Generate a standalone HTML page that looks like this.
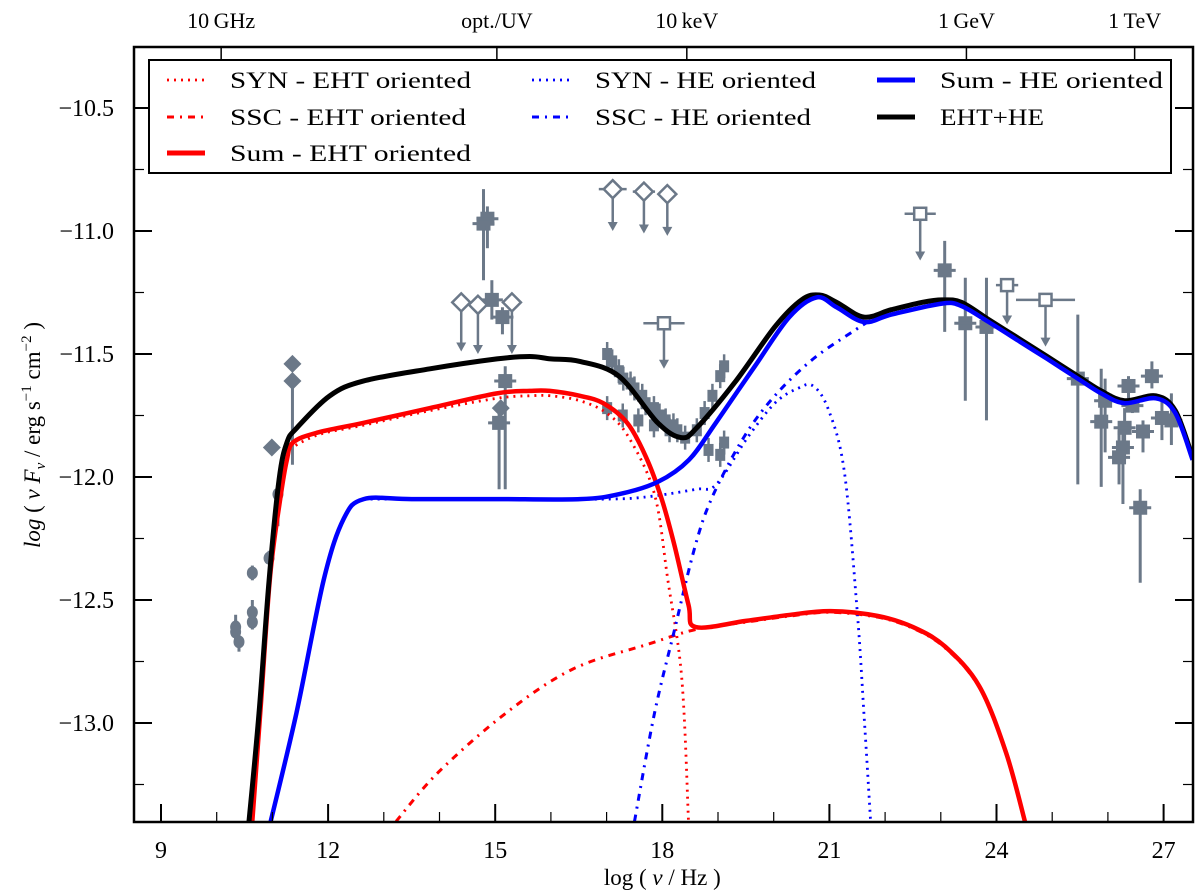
<!DOCTYPE html>
<html><head><meta charset="utf-8"><style>
html,body{margin:0;padding:0;background:#fff;}
svg{display:block;font-family:"Liberation Serif",serif;}
</style></head><body>
<svg id="chart" width="1200" height="893" viewBox="0 0 1200 893" xmlns="http://www.w3.org/2000/svg">
<g id="marks"></g>
<g id="axes"></g>
<g id="legend"></g>
</svg>
<script>
// ---- data ----
const xTicks = [9, 12, 15, 18, 21, 24, 27];
const yTicks = [-10.5, -11.0, -11.5, -12.0, -12.5, -13.0];
const yTickLabels = ["\u221210.5", "\u221211.0", "\u221211.5", "\u221212.0", "\u221212.5", "\u221213.0"];
const topTicks = [10.08, 15.03, 18.44, 23.46, 26.48];
const topLabels = ["10\u2009GHz", "opt./UV", "10\u2009keV", "1\u2009GeV", "1\u2009TeV"];

const blackX = [10.58, 10.76, 10.94, 11.12, 11.26, 11.44, 12.03, 12.63, 13.83, 15.03, 15.62, 16.0, 16.52, 17.22, 17.92, 18.34, 18.62, 19.32, 20.02, 20.5, 20.82, 21.13, 21.62, 22.11, 22.67, 23.02, 23.37, 23.86, 24.42, 24.91, 25.46, 25.88, 26.3, 26.86, 27.21, 27.52];
const blackY = [-13.4, -12.96, -12.42, -12.01, -11.86, -11.8, -11.67, -11.61, -11.56, -11.52, -11.51, -11.52, -11.53, -11.59, -11.78, -11.84, -11.8, -11.61, -11.39, -11.28, -11.26, -11.29, -11.35, -11.32, -11.29, -11.28, -11.29, -11.36, -11.44, -11.51, -11.59, -11.65, -11.69, -11.67, -11.73, -11.92];

const redSumX = [10.64, 10.8, 10.96, 11.14, 11.26, 11.37, 11.8, 12.63, 13.83, 15.03, 15.62, 15.98, 16.52, 16.94, 17.37, 17.71, 17.99, 18.22, 18.47, 18.6, 19.5, 20.3, 21.02, 21.87, 22.5, 23.08, 23.69, 24.17, 24.51];
const redSumY = [-13.4, -12.9, -12.4, -12.09, -11.93, -11.86, -11.82, -11.78, -11.72, -11.66, -11.65, -11.65, -11.67, -11.7, -11.78, -11.92, -12.09, -12.28, -12.52, -12.61, -12.585, -12.56, -12.545, -12.565, -12.61, -12.69, -12.85, -13.12, -13.4];
const redSynX = [11.2, 11.8, 12.63, 13.83, 15.03, 15.62, 16.0, 16.52, 17.0, 17.4, 17.86, 18.1, 18.35, 18.47];
const redSynY = [-11.9, -11.83, -11.79, -11.73, -11.68, -11.67, -11.67, -11.69, -11.74, -11.84, -12.07, -12.42, -12.82, -13.4];
const redSscX = [13.22, 13.98, 15.19, 16.4, 17.74, 18.6, 19.5, 20.3, 21.02, 21.87, 22.5, 23.08, 23.69, 24.17, 24.51];
const redSscY = [-13.4, -13.2, -12.96, -12.78, -12.68, -12.62, -12.59, -12.565, -12.55, -12.57, -12.615, -12.695, -12.855, -13.125, -13.4];

const blueSumX = [10.97, 11.43, 11.92, 12.28, 12.64, 13.5, 15.0, 16.52, 17.22, 17.92, 18.48, 18.96, 19.66, 20.28, 20.77, 21.13, 21.62, 22.11, 23.02, 23.37, 23.86, 24.42, 24.91, 25.46, 25.88, 26.3, 26.86, 27.21, 27.52];
const blueSumY = [-13.4, -12.96, -12.42, -12.17, -12.09, -12.09, -12.09, -12.09, -12.07, -12.02, -11.93, -11.78, -11.55, -11.35, -11.27, -11.31, -11.37, -11.34, -11.295, -11.305, -11.37, -11.45, -11.52, -11.6, -11.66, -11.7, -11.68, -11.74, -11.93];
const blueSynX = [12.64, 15.0, 17.0, 17.75, 18.6, 18.97, 19.53, 20.02, 20.43, 20.71, 20.99, 21.27, 21.5, 21.62, 21.74];
const blueSynY = [-12.09, -12.09, -12.09, -12.08, -12.05, -12.03, -11.84, -11.7, -11.64, -11.63, -11.73, -11.98, -12.55, -12.96, -13.4];
const blueSscX = [17.5, 17.86, 18.22, 18.59, 18.9, 19.46, 20.02, 20.71, 21.48, 21.69];
const blueSscY = [-13.4, -12.96, -12.62, -12.28, -12.08, -11.84, -11.67, -11.52, -11.4, -11.37];

// measured points (filled), with vertical error range
const ptX  = [10.34, 10.34, 10.4, 10.64, 10.64, 10.64, 10.94, 11.1, 14.79, 14.86, 14.94, 15.13, 15.18, 15.07, 23.07, 23.44, 23.82, 25.46, 25.88, 25.95, 26.27, 26.2, 26.3, 26.37, 26.44, 26.63, 26.58, 26.79, 26.97, 27.14];
const ptY  = [-12.61, -12.63, -12.67, -12.55, -12.59, -12.39, -12.33, -12.07, -10.97, -10.95, -11.28, -11.35, -11.61, -11.78, -11.16, -11.375, -11.39, -11.6, -11.775, -11.69, -11.88, -11.92, -11.8, -11.63, -11.71, -11.815, -12.125, -11.59, -11.76, -11.77];
const ptLo = [-12.66, -12.68, -12.71, -12.6, -12.62, -12.42, -12.35, -12.2, -11.2, -11.07, -11.36, -11.42, -12.05, -12.05, -11.41, -11.69, -11.77, -12.03, -12.04, -11.9, -12.11, -12.03, -11.9, -11.68, -11.74, -11.9, -12.43, -11.64, -11.85, -11.87];
const ptHi = [-12.56, -12.58, -12.63, -12.5, -12.55, -12.36, -12.3, -12.05, -10.83, -10.9, -11.2, -11.31, -11.55, -11.72, -11.04, -11.19, -11.19, -11.34, -11.56, -11.6, -11.78, -11.81, -11.72, -11.59, -11.68, -11.77, -12.05, -11.53, -11.68, -11.66];
const ptShape = ["c","c","c","c","c","c","c","c","s","s","s","s","s","s","s","s","s","s","s","s","s","s","s","s","s","s","s","s","s","s"];
// radio / optical filled diamonds
const dmX = [10.99, 11.36, 11.36, 15.1];
const dmY = [-11.88, -11.54, -11.61, -11.72];
const dmLo = [-11.88, -11.54, -11.95, -11.78];
// X-ray bowtie points
const xrX = [17.01, 17.22, 17.43, 17.64, 17.85, 18.06, 18.27, 17.01, 17.29, 17.57, 17.85, 18.13, 18.41, 18.62, 18.76, 18.9, 19.04, 19.11, 18.83, 19.04, 19.11, 17.1, 17.3, 17.5, 17.7, 17.95, 18.2];
const xrY = [-11.5, -11.57, -11.62, -11.67, -11.72, -11.77, -11.81, -11.72, -11.75, -11.77, -11.79, -11.81, -11.84, -11.81, -11.74, -11.67, -11.59, -11.55, -11.89, -11.91, -11.86, -11.53, -11.6, -11.64, -11.7, -11.75, -11.79];
// upper limits: open diamonds (d) and open squares (q)
const ulX = [14.39, 14.69, 15.3, 17.11, 17.67, 18.09, 18.03, 22.63, 24.19, 24.88];
const ulY = [-11.29, -11.3, -11.29, -10.83, -10.84, -10.85, -11.375, -10.93, -11.22, -11.28];
const ulEnd = [-11.49, -11.5, -11.5, -11.0, -11.01, -11.02, -11.56, -11.12, -11.38, -11.47];
const ulXerr = [0, 0, 0, 0.25, 0.2, 0.15, 0.37, 0.28, 0.2, 0.53];
const ulShape = ["d","d","d","d","d","d","q","q","q","q"];

// ---- axes functions ----
const X0 = 161, XU = 55.7, Y0 = 108, YU = 246;
const L = 134, R = 1193, T = 47, B = 822;
function X(v){ return X0 + (v - 9) * XU; }
function Y(v){ return Y0 + (-10.5 - v) * YU; }

const NS = "http://www.w3.org/2000/svg";
function mk(tag, attrs, parent){
  const e = document.createElementNS(NS, tag);
  for (const k in attrs) e.setAttribute(k, attrs[k]);
  parent.appendChild(e);
  return e;
}
function smoothPath(xs, ys){
  const p = xs.map((x,i)=>[X(x), Y(ys[i])]);
  let d = "M" + p[0][0].toFixed(1) + "," + p[0][1].toFixed(1);
  for (let i=0;i<p.length-1;i++){
    const p0 = p[Math.max(0,i-1)], p1 = p[i], p2 = p[i+1], p3 = p[Math.min(p.length-1,i+2)];
    const c1x = p1[0] + (p2[0]-p0[0])/6, c1y = p1[1] + (p2[1]-p0[1])/6;
    const c2x = p2[0] - (p3[0]-p1[0])/6, c2y = p2[1] - (p3[1]-p1[1])/6;
    d += " C" + c1x.toFixed(1)+","+c1y.toFixed(1)+" "+c2x.toFixed(1)+","+c2y.toFixed(1)+" "+p2[0].toFixed(1)+","+p2[1].toFixed(1);
  }
  return d;
}

const svg = document.getElementById("chart");
const marks = document.getElementById("marks");
const axes = document.getElementById("axes");
const legend = document.getElementById("legend");

const defs = mk("defs", {}, svg);
const cp = mk("clipPath", {id:"clip"}, defs);
mk("rect", {x:L, y:T, width:R-L, height:B-T}, cp);
marks.setAttribute("clip-path", "url(#clip)");

const GRAY = "#6b7888";
// data points
const dataG = mk("g", {}, marks);


for (let i=0;i<ptX.length;i++){
  const g = mk("g", {}, dataG);
  
  
  const cx = X(ptX[i]), cy = Y(ptY[i]);
  mk("line", {x1:cx, y1:Y(ptLo[i]), x2:cx, y2:Y(ptHi[i]), stroke:GRAY, "stroke-width":3}, g);
  if (ptShape[i]==="c") mk("ellipse", {cx:cx, cy:cy, rx:5.5, ry:6.5, fill:GRAY}, g);
  else { mk("rect", {x:cx-7, y:cy-7, width:14, height:14, fill:GRAY}, g);
         mk("line", {x1:cx-11, y1:cy, x2:cx+11, y2:cy, stroke:GRAY, "stroke-width":3}, g); }
}
for (let i=0;i<dmX.length;i++){
  const g = mk("g", {}, dataG);
  
  
  const cx = X(dmX[i]), cy = Y(dmY[i]);
  mk("line", {x1:cx, y1:cy, x2:cx, y2:Y(dmLo[i]), stroke:GRAY, "stroke-width":3}, g);
  mk("polygon", {points:`${cx},${cy-9} ${cx+9},${cy} ${cx},${cy+9} ${cx-9},${cy}`, fill:GRAY}, g);
}
for (let i=0;i<xrX.length;i++){
  const g = mk("g", {}, dataG);
  
  
  const cx = X(xrX[i]), cy = Y(xrY[i]);
  mk("line", {x1:cx, y1:cy-12, x2:cx, y2:cy+12, stroke:GRAY, "stroke-width":2.5}, g);
  mk("rect", {x:cx-5, y:cy-6, width:10, height:12, fill:GRAY}, g);
}
for (let i=0;i<ulX.length;i++){
  const g = mk("g", {}, dataG);
  
  
  const cx = X(ulX[i]), cy = Y(ulY[i]), ey = Y(ulEnd[i]);
  if (ulXerr[i]>0) mk("line", {x1:X(ulX[i]-ulXerr[i]), y1:cy, x2:X(ulX[i]+ulXerr[i]), y2:cy, stroke:GRAY, "stroke-width":2.5}, g);
  mk("line", {x1:cx, y1:cy, x2:cx, y2:ey-6, stroke:GRAY, "stroke-width":2.5}, g);
  mk("polygon", {points:`${cx-5},${ey-9} ${cx+5},${ey-9} ${cx},${ey}`, fill:GRAY}, g);
  if (ulShape[i]==="d") mk("polygon", {points:`${cx},${cy-9} ${cx+9},${cy} ${cx},${cy+9} ${cx-9},${cy}`, fill:"#fff", stroke:GRAY, "stroke-width":2.5}, g);
  else mk("rect", {x:cx-6, y:cy-6, width:12, height:12, fill:"#fff", stroke:GRAY, "stroke-width":2.5}, g);
}

// model curves
const curves = [
  {x:redSynX, y:redSynY, c:"#ff0000", w:2.8, dash:"2 5", n:"syn-eht-curve"},
  {x:redSscX, y:redSscY, c:"#ff0000", w:3, dash:"7 6 2 6", n:"ssc-eht-curve"},
  {x:blueSynX, y:blueSynY, c:"#0000ff", w:2.8, dash:"2 5", n:"syn-he-curve"},
  {x:blueSscX, y:blueSscY, c:"#0000ff", w:3, dash:"7 6 2 6", n:"ssc-he-curve"},
  {x:redSumX, y:redSumY, c:"#ff0000", w:4.5, dash:"", n:"sum-eht-curve"},
  {x:blackX, y:blackY, c:"#000000", w:5, dash:"", n:"eht-he-curve"},
  {x:blueSumX, y:blueSumY, c:"#0000ff", w:4.5, dash:"", n:"sum-he-curve"}
];
curves.forEach(cv=>{
  const p = mk("path", {d:smoothPath(cv.x, cv.y), fill:"none", stroke:cv.c, "stroke-width":cv.w, "stroke-linejoin":"round"}, marks);
  if (cv.dash) p.setAttribute("stroke-dasharray", cv.dash);
  
  
});

// frame
const frame = mk("rect", {x:L, y:T, width:R-L, height:B-T, fill:"none", stroke:"#000", "stroke-width":2.5}, axes);


// x ticks
for (let v=9; v<=27; v++){
  const major = xTicks.includes(v);
  mk("line", {x1:X(v), y1:B, x2:X(v), y2:B-(major?18:10), stroke:"#000", "stroke-width":major?2:1.2}, axes);
}
xTicks.forEach(v=>{
  const t = mk("text", {x:X(v), y:858, "text-anchor":"middle", "font-size":24}, axes);
  t.textContent = v;
  
  
});
// y ticks
for (let k=0;k<=12;k++){
  const v = -10.25 - k*0.25;
  if (Y(v) < T || Y(v) > B) continue;
  const major = Math.abs(v*2 - Math.round(v*2)) < 1e-6;
  mk("line", {x1:L, y1:Y(v), x2:L+(major?18:10), y2:Y(v), stroke:"#000", "stroke-width":major?2:1.2}, axes);
  mk("line", {x1:R, y1:Y(v), x2:R-(major?18:10), y2:Y(v), stroke:"#000", "stroke-width":major?2:1.2}, axes);
}
yTicks.forEach((v,i)=>{
  const t = mk("text", {x:114, y:Y(v)+8, "text-anchor":"end", "font-size":24}, axes);
  t.textContent = yTickLabels[i];
  
  
});
// top ticks
topTicks.forEach((v,i)=>{
  mk("line", {x1:X(v), y1:T, x2:X(v), y2:T+14, stroke:"#000", "stroke-width":1.5}, axes);
  const t = mk("text", {x:X(v), y:28, "text-anchor":"middle", "font-size":22}, axes);
  t.textContent = topLabels[i];
  
  
});
// axis titles
const xt = mk("text", {x:X(18), y:885, "text-anchor":"middle", "font-size":23}, axes);
xt.innerHTML = 'log ( <tspan font-style="italic">ν</tspan> / Hz )';


const yt = mk("text", {x:0, y:0, "text-anchor":"middle", "font-size":23, transform:"translate(40,435) rotate(-90)"}, axes);
yt.innerHTML = '<tspan font-style="italic">log</tspan> ( <tspan font-style="italic">ν F<tspan font-size="15" dy="5">ν</tspan></tspan><tspan dy="-5"> / erg s</tspan><tspan font-size="15" dy="-9">−1</tspan><tspan dy="9"> cm</tspan><tspan font-size="15" dy="-9">−2</tspan><tspan dy="9"> )</tspan>';



// legend
const lb = mk("rect", {x:149, y:60, width:1022, height:113, fill:"#fff", stroke:"#000", "stroke-width":2}, legend);


const legItems = [
  {x:167, y:80, c:"#ff0000", w:2.8, dash:"2 5", t:"SYN - EHT oriented", tl:241},
  {x:167, y:117, c:"#ff0000", w:3, dash:"7 6 2 6", t:"SSC - EHT oriented", tl:236},
  {x:167, y:153, c:"#ff0000", w:5, dash:"", t:"Sum - EHT oriented", tl:241},
  {x:532, y:80, c:"#0000ff", w:2.8, dash:"2 5", t:"SYN - HE oriented", tl:221},
  {x:532, y:117, c:"#0000ff", w:3, dash:"7 6 2 6", t:"SSC - HE oriented", tl:216},
  {x:877, y:80, c:"#0000ff", w:5, dash:"", t:"Sum - HE oriented", tl:223},
  {x:877, y:117, c:"#000000", w:5, dash:"", t:"EHT+HE", tl:104}
];
legItems.forEach(it=>{
  const g = mk("g", {}, legend);
  
  
  const ln = mk("line", {x1:it.x, y1:it.y, x2:it.x+38, y2:it.y, stroke:it.c, "stroke-width":it.w}, g);
  if (it.dash) ln.setAttribute("stroke-dasharray", it.dash);
  const t = mk("text", {x:it.x+63, y:it.y+8, "font-size":23, textLength:it.tl, lengthAdjust:"spacingAndGlyphs"}, g);
  t.textContent = it.t;
});
</script>
</body></html>
